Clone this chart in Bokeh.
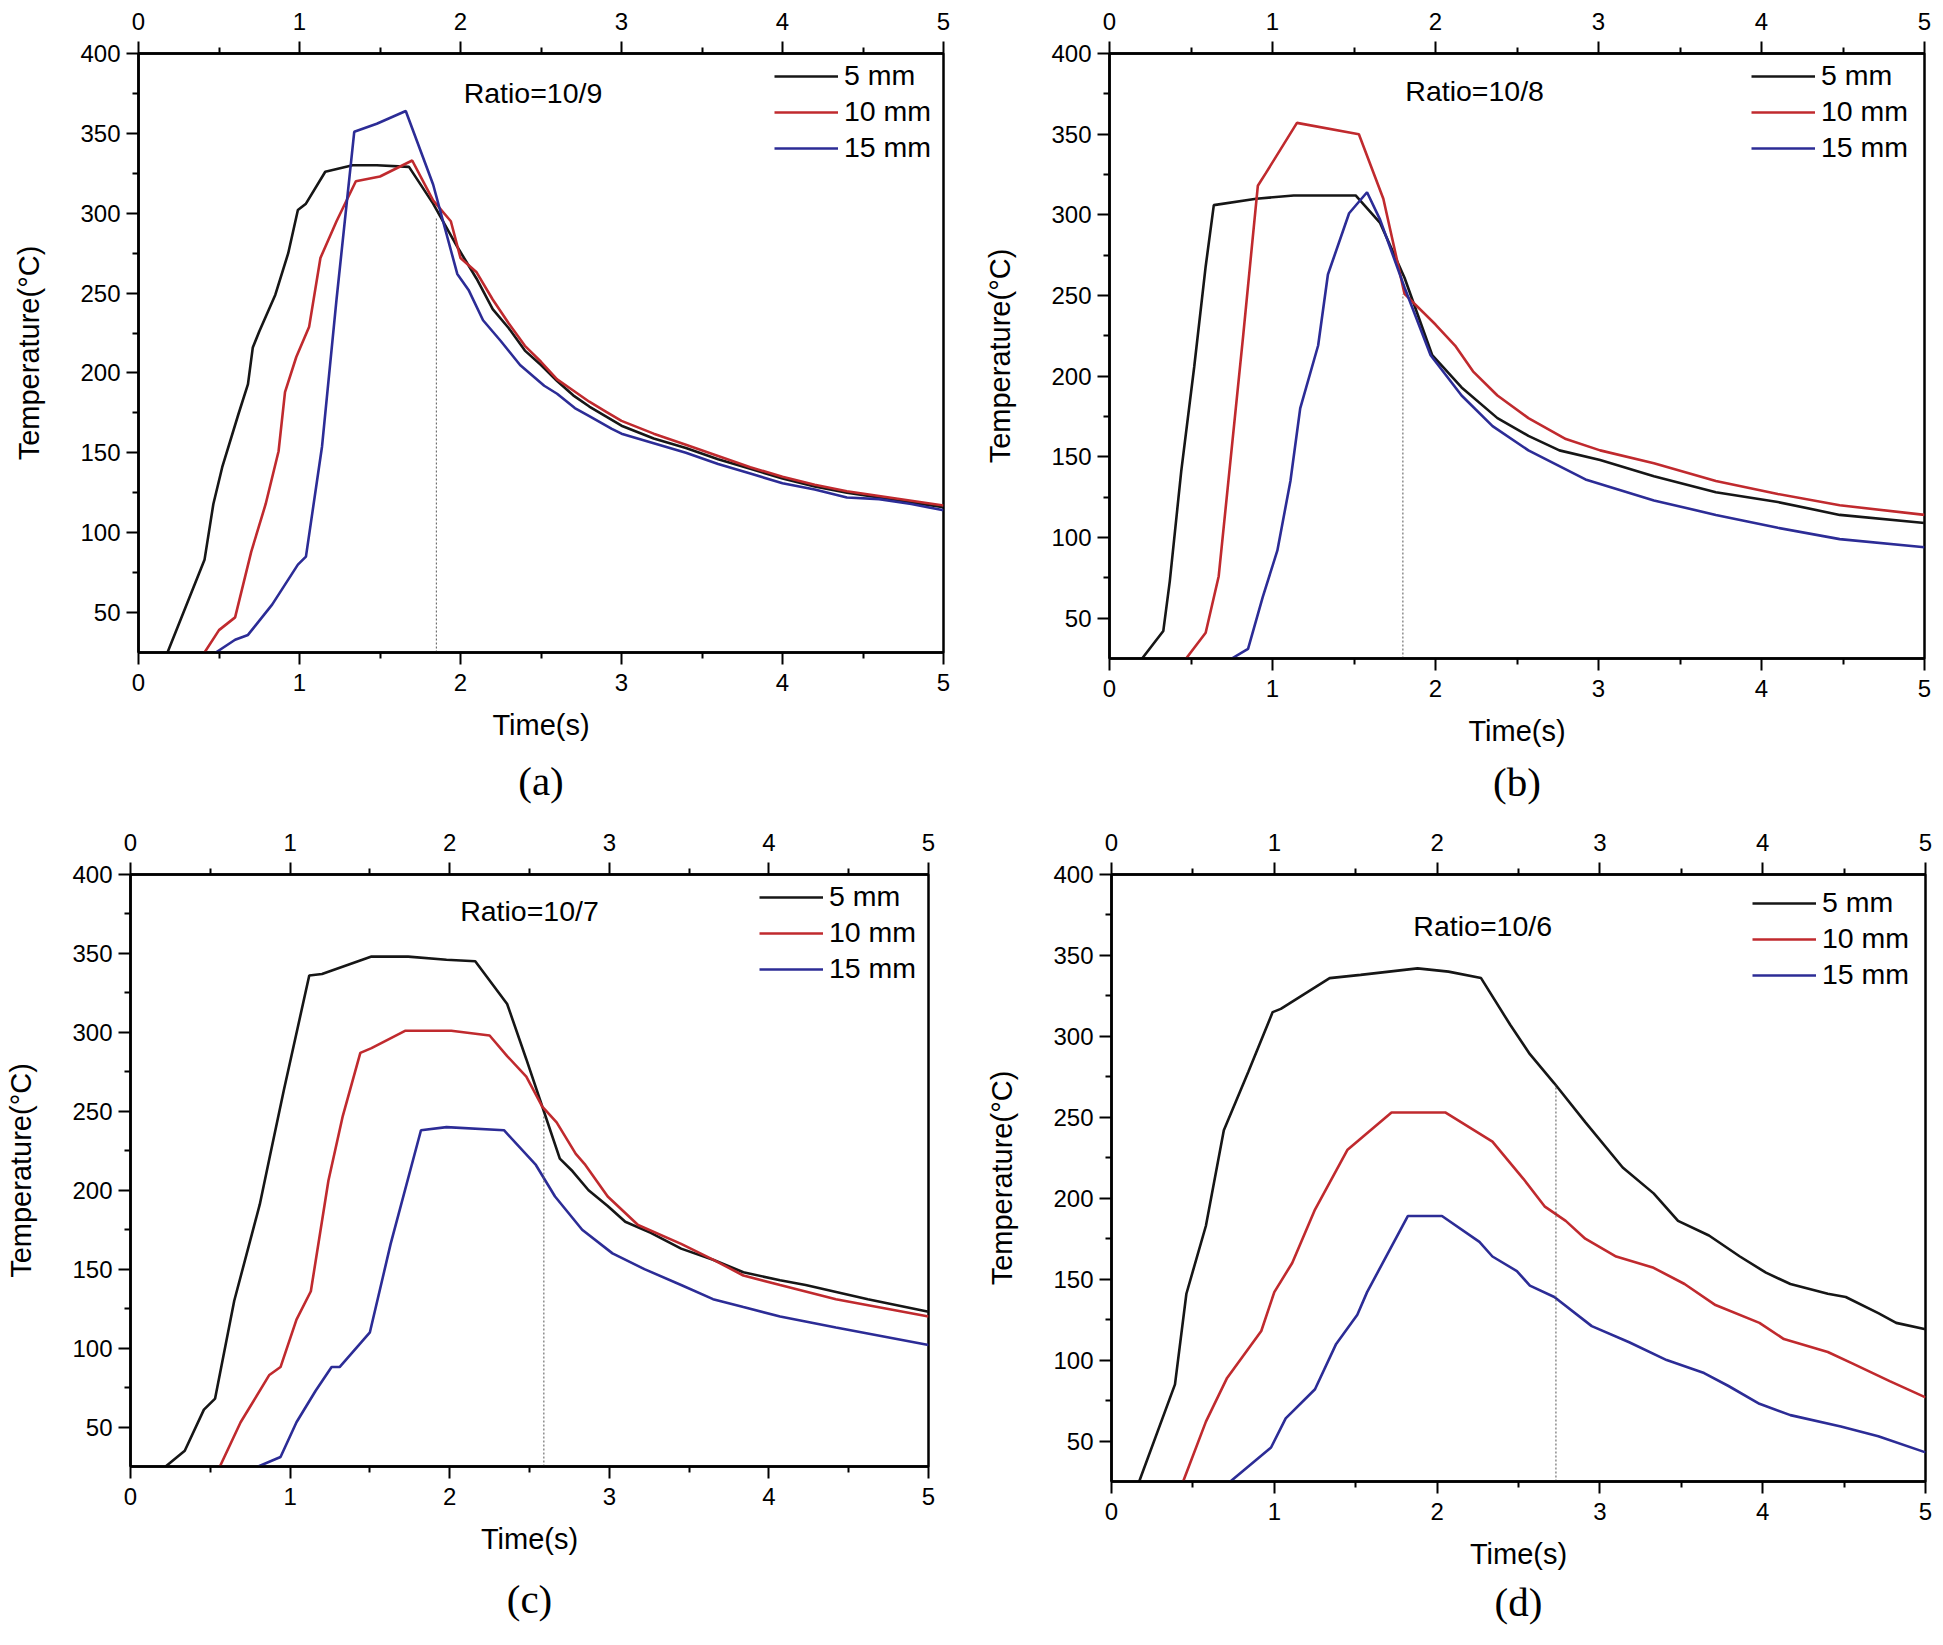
from bokeh.plotting import figure
from bokeh.models import FixedTicker, LinearAxis, Range1d, Legend, LegendItem, Title
from bokeh.layouts import row, column
from bokeh.embed import file_html
from bokeh.resources import INLINE
from bokeh.core.properties import value

# ---------------- data ----------------
series_labels = ["5 mm", "10 mm", "15 mm"]
ratio_labels = ["Ratio=10/9", "Ratio=10/8", "Ratio=10/7", "Ratio=10/6"]
captions = ["(a)", "(b)", "(c)", "(d)"]
x_major = [0, 1, 2, 3, 4, 5]
x_minor = [0.5, 1.5, 2.5, 3.5, 4.5]
y_major = [50, 100, 150, 200, 250, 300, 350, 400]
y_minor = [75, 125, 175, 225, 275, 325, 375]

# panel (a) Ratio=10/9
a5_t = [0.18, 0.41, 0.465, 0.52, 0.62, 0.68, 0.71, 0.75, 0.85, 0.93, 0.99, 1.04, 1.16, 1.33, 1.48, 1.68, 1.83, 1.98, 2.1, 2.2, 2.3, 2.4, 2.5, 2.6, 2.7, 2.8, 2.9, 3.0, 3.2, 3.4, 3.6, 3.8, 4.0, 4.2, 4.4, 4.6, 4.8, 5.0]
a5_T = [25, 83, 118, 141, 174, 193, 216, 226, 249, 275, 302, 306, 326, 330, 330, 329, 306, 279, 259, 240, 228, 214, 205, 195, 186, 179, 173, 167, 159, 153, 146, 140, 134, 129, 125, 122, 119, 116]
a10_t = [0.41, 0.50, 0.60, 0.70, 0.79, 0.87, 0.91, 0.98, 1.06, 1.13, 1.23, 1.35, 1.50, 1.70, 1.83, 1.94, 2.0, 2.1, 2.2, 2.3, 2.4, 2.5, 2.6, 2.7, 2.8, 2.9, 3.0, 3.2, 3.4, 3.6, 3.8, 4.0, 4.2, 4.4, 4.6, 4.8, 5.0]
a10_T = [25, 39, 47, 88, 118, 151, 188, 210, 229, 272, 295, 320, 323, 333, 308, 295, 272, 263, 246, 231, 217, 207, 196, 189, 182, 176, 170, 162, 155, 148, 141, 135, 130, 126, 123, 120, 117]
a15_t = [0.48, 0.60, 0.68, 0.83, 0.99, 1.04, 1.14, 1.23, 1.34, 1.48, 1.66, 1.83, 1.98, 2.05, 2.14, 2.25, 2.37, 2.52, 2.6, 2.71, 2.8, 2.94, 3.0, 3.2, 3.4, 3.6, 3.8, 4.0, 4.2, 4.4, 4.6, 4.8, 5.0]
a15_T = [25, 33, 36, 55, 80, 85, 154, 246, 351, 356, 364, 318, 262, 252, 233, 220, 205, 192, 187, 178, 173, 165, 162, 156, 150, 143, 137, 131, 127, 122, 121, 118, 114]

# panel (b) Ratio=10/8
b5_t = [0.20, 0.33, 0.37, 0.44, 0.52, 0.59, 0.64, 0.90, 1.13, 1.51, 1.66, 1.81, 1.98, 2.16, 2.38, 2.57, 2.76, 3.01, 3.34, 3.72, 4.10, 4.48, 5.0]
b5_T = [25, 42, 73, 141, 206, 268, 306, 310, 312, 312, 295, 261, 213, 193, 174, 163, 154, 148, 138, 128, 122, 114, 109]
b10_t = [0.47, 0.59, 0.67, 0.82, 0.91, 0.96, 1.15, 1.53, 1.68, 1.81, 2.00, 2.12, 2.23, 2.38, 2.57, 2.80, 3.01, 3.34, 3.72, 4.10, 4.48, 5.0]
b10_T = [25, 41, 76, 225, 318, 326, 357, 350, 310, 251, 232, 219, 203, 188, 174, 161, 154, 146, 135, 127, 120, 114]
b15_t = [0.75, 0.85, 0.94, 1.03, 1.11, 1.17, 1.28, 1.34, 1.47, 1.58, 1.66, 1.81, 1.97, 2.16, 2.35, 2.57, 2.92, 3.34, 3.72, 4.10, 4.48, 5.0]
b15_T = [25, 31, 63, 92, 135, 180, 219, 263, 301, 314, 297, 255, 213, 188, 169, 154, 136, 123, 114, 106, 99, 94]

# panel (c) Ratio=10/7
c5_t = [0.22, 0.34, 0.46, 0.53, 0.65, 0.81, 0.87, 0.96, 1.12, 1.20, 1.51, 1.74, 1.98, 2.16, 2.36, 2.48, 2.60, 2.69, 2.77, 2.87, 2.99, 3.10, 3.26, 3.45, 3.65, 3.84, 4.07, 4.23, 4.62, 5.0]
c5_T = [25, 35, 61, 68, 130, 191, 220, 263, 336, 337, 348, 348, 346, 345, 318, 283, 247, 220, 212, 200, 190, 180, 173, 163, 156, 148, 143, 140, 131, 123]
c10_t = [0.56, 0.69, 0.87, 0.94, 1.04, 1.13, 1.24, 1.33, 1.44, 1.51, 1.72, 2.01, 2.25, 2.36, 2.48, 2.58, 2.67, 2.79, 2.85, 2.99, 3.18, 3.45, 3.65, 3.84, 4.07, 4.42, 5.0]
c10_T = [25, 53, 83, 88, 118, 136, 206, 247, 287, 290, 301, 301, 298, 285, 272, 253, 243, 223, 216, 196, 178, 166, 156, 146, 140, 131, 120]
c15_t = [0.80, 0.94, 1.04, 1.16, 1.26, 1.31, 1.50, 1.63, 1.82, 1.98, 2.34, 2.54, 2.66, 2.83, 3.02, 3.22, 3.45, 3.65, 3.84, 4.07, 4.42, 5.0]
c15_T = [25, 31, 53, 73, 88, 88, 110, 166, 238, 240, 238, 216, 196, 175, 160, 150, 140, 131, 126, 120, 113, 102]

# panel (d) Ratio=10/6
d5_t = [0.17, 0.39, 0.46, 0.58, 0.69, 0.84, 0.99, 1.04, 1.34, 1.53, 1.88, 2.07, 2.27, 2.45, 2.57, 2.72, 2.91, 3.14, 3.33, 3.48, 3.67, 3.86, 4.02, 4.17, 4.40, 4.51, 4.71, 4.82, 5.0]
d5_T = [25, 85, 141, 183, 242, 278, 315, 317, 336, 338, 342, 340, 336, 307, 289, 271, 247, 219, 203, 186, 177, 164, 154, 147, 141, 139, 129, 123, 119]
d10_t = [0.44, 0.58, 0.71, 0.92, 1.00, 1.11, 1.25, 1.45, 1.72, 2.05, 2.34, 2.53, 2.66, 2.79, 2.91, 3.10, 3.33, 3.52, 3.71, 3.98, 4.13, 4.40, 4.55, 4.78, 5.0]
d10_T = [25, 62, 89, 118, 142, 160, 193, 230, 253, 253, 235, 212, 195, 186, 175, 164, 157, 147, 134, 123, 113, 105, 98, 87, 77]
d15_t = [0.73, 0.98, 1.07, 1.25, 1.38, 1.51, 1.57, 1.82, 2.03, 2.26, 2.34, 2.49, 2.57, 2.72, 2.95, 3.18, 3.41, 3.64, 3.79, 3.98, 4.17, 4.48, 4.71, 5.0]
d15_T = [25, 46, 64, 82, 110, 128, 142, 189, 189, 173, 164, 155, 146, 139, 121, 111, 100, 92, 84, 73, 66, 59, 53, 43]

# dotted marker lines (time, top temperature)
mark_t = [1.85, 1.80, 2.59, 2.73]
mark_T = [298, 251, 248, 270]

COLORS = ["#161616", "#c02a2e", "#2c2c96"]
FONT = "Liberation Sans"


def style_axis(ax):
    ax.axis_line_width = 2.5
    ax.axis_line_color = "black"
    ax.major_tick_line_width = 2
    ax.minor_tick_line_width = 2
    ax.major_tick_line_color = "black"
    ax.minor_tick_line_color = "black"
    ax.major_tick_in = 0
    ax.major_tick_out = 12
    ax.minor_tick_in = 0
    ax.minor_tick_out = 6
    ax.major_label_text_font = FONT
    ax.major_label_text_font_size = "24px"
    ax.major_label_text_color = "black"
    ax.axis_label_text_font = FONT
    ax.axis_label_text_font_style = "normal"
    ax.axis_label_text_font_size = "29px"
    ax.axis_label_text_color = "black"


def make_panel(series, ratio_text, ratio_xy, mx, mtop, caption, cap_standoff,
               borders, frame, legend_loc):
    left, right, top, bottom = borders
    fw, fh = frame
    p = figure(frame_width=fw, frame_height=fh,
               min_border_left=left, min_border_right=right,
               min_border_top=top, min_border_bottom=bottom,
               x_range=Range1d(0, 5), y_range=Range1d(25, 400),
               output_backend="svg", toolbar_location=None)
    p.xgrid.visible = False
    p.ygrid.visible = False
    p.outline_line_color = "black"
    p.outline_line_width = 2.5
    p.background_fill_color = "white"
    p.border_fill_color = "white"

    bottom_ax = p.below[0]
    left_ax = p.left[0]
    top_ax = LinearAxis()
    p.add_layout(top_ax, "above")

    for ax in [bottom_ax, top_ax]:
        ax.ticker = FixedTicker(ticks=x_major, minor_ticks=x_minor)
    left_ax.ticker = FixedTicker(ticks=y_major, minor_ticks=y_minor)

    for ax in [bottom_ax, top_ax, left_ax]:
        style_axis(ax)
    top_ax.major_label_standoff = 12
    bottom_ax.major_label_standoff = 9
    left_ax.major_label_standoff = 6

    bottom_ax.axis_label = "Time(s)"
    bottom_ax.axis_label_standoff = 15
    left_ax.axis_label = "Temperature(°C)"
    left_ax.axis_label_standoff = 32

    renderers = []
    for (t, T), c in zip(series, COLORS):
        r = p.line(t, T, line_color=c, line_width=2.6)
        renderers.append(r)

    p.segment(x0=[mx], y0=[25], x1=[mx], y1=[mtop], line_color="#555555",
              line_width=1, line_dash="2 2")

    legend = Legend(items=[LegendItem(label=lab, renderers=[r])
                           for lab, r in zip(series_labels, renderers)],
                    location=legend_loc, orientation="vertical",
                    glyph_width=64, glyph_height=32, label_height=32,
                    label_standoff=6, spacing=3, padding=0, margin=0,
                    border_line_color=None, background_fill_alpha=0,
                    label_text_font=FONT, label_text_font_size="28.5px",
                    label_text_color="black")
    p.add_layout(legend)

    p.text(x=[ratio_xy[0]], y=[ratio_xy[1]], text=[ratio_text],
           text_font=value(FONT), text_font_size="28.5px",
           text_align="center", text_baseline="middle", text_color="black")

    cap = Title(text=caption, align="center", text_font="Liberation Serif",
                text_font_size="41px", text_font_style="normal",
                text_color="black", standoff=cap_standoff)
    p.add_layout(cap, "below")
    return p


pa = make_panel([(a5_t, a5_T), (a10_t, a10_T), (a15_t, a15_T)], ratio_labels[0],
                (2.45, 375), mark_t[0], mark_T[0], captions[0], 24,
                (138, 35, 52, 167), (805, 599), (636, 488))
pb = make_panel([(b5_t, b5_T), (b10_t, b10_T), (b15_t, b15_T)], ratio_labels[1],
                (2.24, 377), mark_t[1], mark_T[1], captions[1], 14,
                (131, 9, 53, 160), (815, 605), (642, 494))
pc = make_panel([(c5_t, c5_T), (c10_t, c10_T), (c15_t, c15_T)], ratio_labels[2],
                (2.50, 377), mark_t[2], mark_T[2], captions[2], 33,
                (130, 50, 55, 168), (798, 592), (629, 481))
pd = make_panel([(d5_t, d5_T), (d10_t, d10_T), (d15_t, d15_T)], ratio_labels[3],
                (2.28, 368), mark_t[3], mark_T[3], captions[3], 9,
                (133, 10, 56, 152), (814, 607), (641, 490))

layout = column(row(pa, pb), row(pc, pd))
open("out.html", "w").write(file_html(layout, INLINE))
